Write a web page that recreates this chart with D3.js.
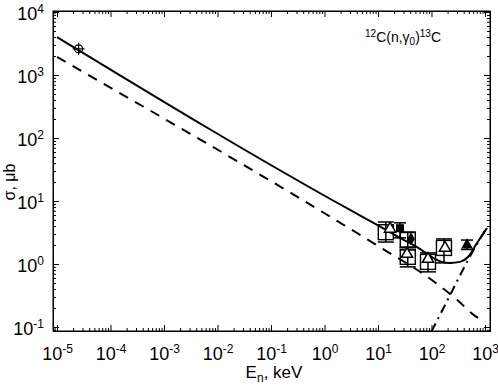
<!DOCTYPE html>
<html><head><meta charset="utf-8">
<script src="https://cdn.jsdelivr.net/npm/d3@7"></script>
<style>
html,body{margin:0;padding:0;background:#fff;}
svg{display:block;font-family:"Liberation Sans",Arial,Helvetica,sans-serif;}
.tk{font-family:"Liberation Sans Narrow","Arial Narrow","Liberation Sans",Arial,sans-serif;}
</style></head>
<body>
<svg id="chart" width="498" height="387"></svg>
<script>
// ---- data ----
const xTickExps = [-5,-4,-3,-2,-1,0,1,2,3];
const yTickExps = [-1,0,1,2,3,4];

// solid curve (total)
const solidE = [1e-5, 3, 10, 25.8, 53.6, 102, 157, 222, 341, 481, 709, 1090];
const solidS = [4000, 7.2, 4.1, 2.6, 1.86, 1.29, 1.08, 1.04, 1.08, 1.29, 2.15, 3.73];
// dashed curve
const dashE = [1e-5, 10, 85, 300, 650, 1000];
const dashS = [1930, 1.93, 0.62, 0.27, 0.15, 0.12];
// dash-dot curve
const ddE = [100, 222, 461, 1000];
const ddS = [0.085, 0.32, 1.08, 3.4];

// thermal point
const thermE = [2.53e-5];
const thermS = [2600];
// open squares with error bars
const sqE  = [14, 36, 36, 86, 171];
const sqS  = [3.2, 2.4, 1.3, 1.08, 1.8];
const sqLo = [2.23, 1.67, 0.90, 0.75, 1.04];
const sqHi = [4.64, 3.22, 1.86, 1.5, 2.5];
// open triangles
const otE = [16.8, 34.8, 86, 179];
const otS = [3.6, 1.44, 1.2, 1.8];
// filled square
const fsE = [25.8], fsS = [3.7], fsLo = [2.6], fsHi = [4.5];
// filled diamond
const fdE = [41.4], fdS = [2.5];
// filled triangle
const ftE = [461], ftS = [2.0], ftLo = [1.7], ftHi = [2.4];

// ---- layout ----
const L = 53, R = 490, T = 11, B = 331;
const svg = d3.select("#chart");
const x = d3.scaleLog().domain([Math.pow(10,-5.0748), Math.pow(10,3.0935)]).range([L, R]);
const y = d3.scaleLog().domain([Math.pow(10,-1.0635), Math.pow(10,4.0159)]).range([B, T]);

svg.append("defs").append("clipPath").attr("id","clip")
  .append("rect").attr("x",L).attr("y",T).attr("width",R-L).attr("height",B-T);

// ticks
const majX = xTickExps.map(e => Math.pow(10,e));
const majY = yTickExps.map(e => Math.pow(10,e));
const minX = [], minY = [];
for (let e=-6; e<=3; e++) for (let k=2;k<=9;k++){ const v=k*Math.pow(10,e); if (v>x.domain()[0] && v<x.domain()[1]) minX.push(v); }
for (let e=-2; e<=4; e++) for (let k=2;k<=9;k++){ const v=k*Math.pow(10,e); if (v>y.domain()[0] && v<y.domain()[1]) minY.push(v); }

function sup(sel, d){
  sel.text(null).attr("class","tk");
  sel.append("tspan").text("10");
  sel.append("tspan").attr("dy","-0.55em").attr("font-size","12px").text(String(Math.round(Math.log10(d))));
}

const fontTick = "18px";
// bottom
const gB = svg.append("g").attr("transform",`translate(0,${B})`);
gB.call(d3.axisBottom(x).tickValues(majX).tickSize(-6).tickPadding(16).tickFormat(""));
gB.call(g=>g.selectAll(".tick text").attr("font-size",fontTick).attr("fill","#000").each(function(d){sup(d3.select(this),d);}));
svg.append("g").attr("transform",`translate(0,${B})`).call(d3.axisBottom(x).tickValues(minX).tickSize(-3).tickFormat(""));
// top
svg.append("g").attr("transform",`translate(0,${T})`).call(d3.axisTop(x).tickValues(majX).tickSize(-6).tickFormat(""));
svg.append("g").attr("transform",`translate(0,${T})`).call(d3.axisTop(x).tickValues(minX).tickSize(-3).tickFormat(""));
// left
const gL = svg.append("g").attr("transform",`translate(${L},0)`);
gL.call(d3.axisLeft(y).tickValues(majY).tickSize(-6).tickPadding(9).tickFormat(""));
gL.call(g=>g.selectAll(".tick text").attr("font-size",fontTick).attr("fill","#000").attr("dy","0.42em").each(function(d){sup(d3.select(this),d);}));
svg.append("g").attr("transform",`translate(${L},0)`).call(d3.axisLeft(y).tickValues(minY).tickSize(-3).tickFormat(""));
// right
svg.append("g").attr("transform",`translate(${R},0)`).call(d3.axisRight(y).tickValues(majY).tickSize(-6).tickFormat(""));
svg.append("g").attr("transform",`translate(${R},0)`).call(d3.axisRight(y).tickValues(minY).tickSize(-3).tickFormat(""));
svg.selectAll(".domain").attr("stroke","#000");
svg.selectAll(".tick line").attr("stroke","#000");
svg.append("rect").attr("x",L).attr("y",T).attr("width",R-L).attr("height",B-T)
  .attr("fill","none").attr("stroke","#000").attr("stroke-width",1);

// curves
const line = d3.line().x(d=>x(d[0])).y(d=>y(d[1])).curve(d3.curveMonotoneX);
const plot = svg.append("g").attr("clip-path","url(#clip)");
plot.append("path").datum(solidE.map((e,i)=>[e,solidS[i]])).attr("d",line)
  .attr("fill","none").attr("stroke","#000").attr("stroke-width",2);
plot.append("path").datum(dashE.map((e,i)=>[e,dashS[i]])).attr("d",line)
  .attr("fill","none").attr("stroke","#000").attr("stroke-width",2).attr("stroke-dasharray","10,8");
plot.append("path").datum(ddE.map((e,i)=>[e,ddS[i]])).attr("d",line)
  .attr("fill","none").attr("stroke","#000").attr("stroke-width",2).attr("stroke-dasharray","9,5,2,5");

// error bars helper
function errbar(g, e, lo, hi, cap){
  const cx = x(e);
  g.append("line").attr("x1",cx).attr("x2",cx).attr("y1",y(lo)).attr("y2",y(hi)).attr("stroke","#000").attr("stroke-width",1.5);
  g.append("line").attr("x1",cx-cap).attr("x2",cx+cap).attr("y1",y(lo)).attr("y2",y(lo)).attr("stroke","#000").attr("stroke-width",1.5);
  g.append("line").attr("x1",cx-cap).attr("x2",cx+cap).attr("y1",y(hi)).attr("y2",y(hi)).attr("stroke","#000").attr("stroke-width",1.5);
}
const mk = svg.append("g");
// open squares
sqE.forEach((e,i)=>{
  errbar(mk, e, sqLo[i], sqHi[i], 8);
  mk.append("rect").attr("x",x(e)-7.5).attr("y",y(sqS[i])-7.5).attr("width",15).attr("height",15)
    .attr("fill","none").attr("stroke","#000").attr("stroke-width",1.4);
});
// open triangles
const triPath = d3.symbol().type(d3.symbolTriangle).size(55);
otE.forEach((e,i)=>{
  mk.append("path").attr("d",triPath).attr("transform",`translate(${x(e)},${y(otS[i])})`)
    .attr("fill","#fff").attr("stroke","#000").attr("stroke-width",1.5);
});
// filled square
fsE.forEach((e,i)=>{
  errbar(mk, e, fsLo[i], fsHi[i], 6);
  mk.append("rect").attr("x",x(e)-4).attr("y",y(fsS[i])-4).attr("width",8).attr("height",8).attr("fill","#000");
});
// filled diamond
fdE.forEach((e,i)=>{
  mk.append("path").attr("d",d3.symbol().type(d3.symbolDiamond).size(50)).attr("transform",`translate(${x(e)},${y(fdS[i])})`).attr("fill","#000");
});
// filled triangle
ftE.forEach((e,i)=>{
  errbar(mk, e, ftLo[i], ftHi[i], 6);
  mk.append("path").attr("d",d3.symbol().type(d3.symbolTriangle).size(60)).attr("transform",`translate(${x(e)},${y(ftS[i])})`).attr("fill","#000");
});
// thermal point: circle with cross
thermE.forEach((e,i)=>{
  const cx=x(e), cy=y(thermS[i]);
  mk.append("circle").attr("cx",cx).attr("cy",cy).attr("r",4).attr("fill","none").attr("stroke","#000").attr("stroke-width",1.2);
  mk.append("line").attr("x1",cx-6).attr("x2",cx+6).attr("y1",cy).attr("y2",cy).attr("stroke","#000").attr("stroke-width",1.2);
  mk.append("line").attr("x1",cx).attr("x2",cx).attr("y1",cy-6).attr("y2",cy+6).attr("stroke","#000").attr("stroke-width",1.2);
});

// title
const ttl = svg.append("text").attr("x",365).attr("y",42).attr("font-size","14px").attr("fill","#000");
ttl.append("tspan").attr("font-size","10px").attr("dy","-5").text("12");
ttl.append("tspan").attr("dy","5").text("C(n,γ");
ttl.append("tspan").attr("font-size","10px").attr("dy","3").text("0");
ttl.append("tspan").attr("dy","-3").text(")");
ttl.append("tspan").attr("font-size","10px").attr("dy","-5").text("13");
ttl.append("tspan").attr("dy","5").text("C");

// axis labels
const xl = svg.append("text").attr("x",274).attr("y",378).attr("text-anchor","middle").attr("font-size","17px").attr("fill","#000");
xl.append("tspan").text("E");
xl.append("tspan").attr("font-size","12px").attr("dy","4").text("n");
xl.append("tspan").attr("dy","-4").text(", keV");
svg.append("text").attr("transform","translate(15,182) rotate(-90)").attr("text-anchor","middle")
  .attr("font-size","16px").attr("fill","#000").text("σ, μb");
</script>
</body></html>
